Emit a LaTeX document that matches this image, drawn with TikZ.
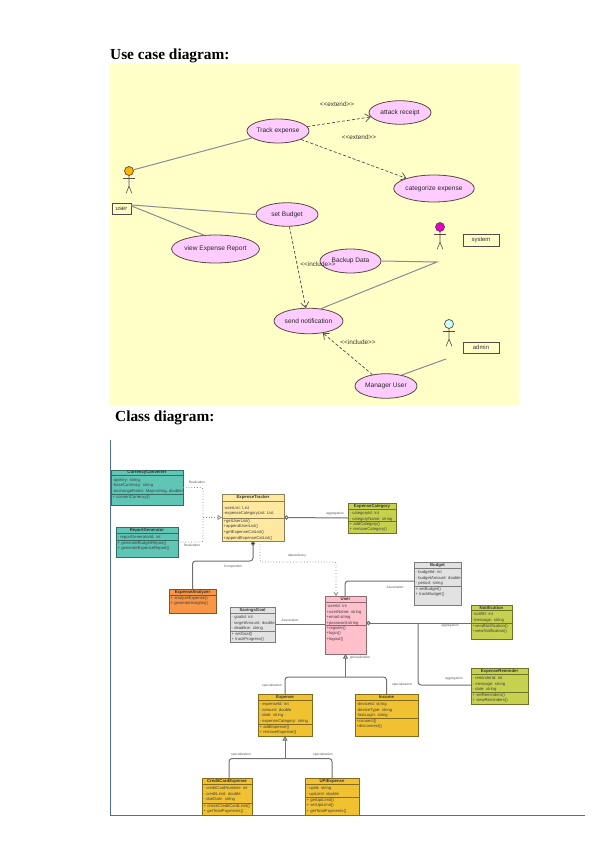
\documentclass[tikz,border=0pt]{standalone}
\usepackage{fontspec}
\setmainfont{Liberation Serif}
\newfontfamily\ssf{Liberation Sans}
\usetikzlibrary{arrows.meta,shapes.geometric,calc}
\definecolor{ucbg}{HTML}{FFFFC8}
\definecolor{ucfill}{HTML}{FFCCFF}
\definecolor{ucedge}{HTML}{5A4848}
\definecolor{uclink}{HTML}{8A8A98}
\definecolor{umlline}{HTML}{707070}
\definecolor{cteal}{HTML}{5FC6B6}
\definecolor{ccream}{HTML}{FFE9A0}
\definecolor{colive}{HTML}{C6D24E}
\definecolor{corange}{HTML}{F79646}
\definecolor{cgrey}{HTML}{E2E2E2}
\definecolor{cpink}{HTML}{FFC0CB}
\definecolor{cgold}{HTML}{F0C232}
\definecolor{frameblue}{HTML}{4F7190}
\definecolor{headuser}{HTML}{FFB400}
\definecolor{headsystem}{HTML}{E600C8}
\definecolor{headadmin}{HTML}{C8FFFF}
\tikzset{
  heading/.style={anchor=base west,inner sep=0,font=\fontsize{15.4}{17}\selectfont\bfseries},
  usecase/.style={ellipse,draw=ucedge,fill=ucfill,line width=0.8bp,inner sep=0,font=\ssf\fontsize{6.6}{8}\selectfont,text=black!85},
  actorlimb/.style={draw=ucedge,line width=0.6bp},
  actorhead/.style={circle,draw=ucedge,line width=0.7bp,minimum size=9bp,inner sep=0},
  tagbox/.style={draw=ucedge,fill=ucbg,line width=0.7bp,inner sep=0,font=\ssf\fontsize{6}{7}\selectfont,text=black!80},
  uclabel/.style={inner sep=0,font=\ssf\fontsize{6.4}{7}\selectfont,text=black!80},
  uclinkst/.style={draw=uclink,line width=1bp},
  ucdep/.style={draw=black!70,line width=0.7bp,dash pattern=on 3bp off 2bp,-{Straight Barb[length=5bp,width=8bp]}},
  classbody/.style={rectangle,draw=#1!55!black,fill=#1,line width=0.7bp,inner sep=0,outer sep=0},
  classtitle/.style={inner sep=0,font=\ssf\bfseries\fontsize{4.3}{5}\selectfont,text=black!80},
  classlines/.style={anchor=north west,inner sep=0,align=left,font=\ssf\fontsize{4.2}{5.6}\selectfont,text=black!75},
  umllink/.style={draw=umlline,line width=1bp,rounded corners=3bp},
  umldot/.style={draw=umlline!80,line width=0.8bp,dotted,rounded corners=2bp},
  umllabel/.style={inner sep=0,font=\ssf\fontsize{3.3}{4}\selectfont,text=black!65},
  hollowtri/.style={-{Triangle[open,fill=white,length=4.5bp,width=5bp]}},
  hollowdia/.style={{Diamond[open,fill=white,length=5bp,width=4.5bp]}-},
}
\def\parsegeom#1,#2,#3,#4,#5,#6\relax{%
  \def\xa{#1}\def\ya{#2}\def\xb{#3}\def\yb{#4}\def\yh{#5}\def\ys{#6}}
% name, geometry x1,y1,x2,y2,yheader,ysep, colour, title, attributes, methods
\newcommand{\umlclass}[6]{%
  \parsegeom#2\relax
  \pgfmathsetmacro{\bw}{\xb-\xa}\pgfmathsetmacro{\bh}{\yb-\ya}
  \pgfmathsetmacro{\mx}{(\xa+\xb)/2}\pgfmathsetmacro{\my}{(\ya+\yb)/2}
  \pgfmathsetmacro{\ty}{(\ya+\yh)/2}
  \pgfmathsetmacro{\ax}{\xa+1.5}
  \pgfmathsetmacro{\ayy}{\yh+2.4}\pgfmathsetmacro{\myy}{\ys+1.1}
  \node[classbody=#3,minimum width=\bw bp,minimum height=\bh bp] (#1) at (\mx,\my) {};
  \draw[#3!55!black,line width=0.6bp] (\xa,\yh) -- (\xb,\yh) (\xa,\ys) -- (\xb,\ys);
  \node[classtitle] (#1-title) at (\mx,\ty) {#4};
  \node[classlines] (#1-attrs) at (\ax,\ayy) {#5};
  \node[classlines] (#1-ops) at (\ax,\myy) {#6};
}
% name, head x, head y, colour
\newcommand{\actor}[4]{%
  \node[actorhead,fill=#4] (#1) at (#2,#3) {};
  \draw[actorlimb] (#1.south) -- ++(0,10.5) coordinate (#1-hip) -- ++(-3,7);
  \draw[actorlimb] (#1-hip) -- ++(3,7);
  \draw[actorlimb] ($(#1.south)+(-6,2.5)$) -- ++(12,0);
}
\begin{document}
\begin{tikzpicture}[x=1bp,y=-1bp]
\useasboundingbox[fill=white] (0,0) rectangle (592,845);
\node[heading] (h1) at (110,59) {Use case diagram:};
\node[heading] (h2) at (115,421) {Class diagram:};
\fill[ucbg] (110,64) rectangle (519,405);

% use cases
\node[usecase,minimum width=62bp,minimum height=24bp] (track) at (278,131) {Track expense};
\node[usecase,minimum width=62bp,minimum height=23.5bp] (attack) at (400,112.5) {attack receipt};
\node[usecase,minimum width=76bp,minimum height=27bp] (categ) at (434,188.5) {categorize expense};
\node[usecase,minimum width=62bp,minimum height=23.5bp] (budget) at (287,214.5) {set Budget};
\node[usecase,minimum width=81bp,minimum height=28bp] (report) at (215.5,249) {view Expense Report};
\node[usecase,minimum width=61bp,minimum height=24bp] (backup) at (350.5,261) {\raisebox{1.8bp}{Backup Data}};
\node[usecase,minimum width=69bp,minimum height=25.5bp] (send) at (308.5,321) {send notification};
\node[usecase,minimum width=62bp,minimum height=24.5bp] (manager) at (386,386) {Manager User};

% actors
\actor{auser}{129}{171}{headuser}
\actor{asystem}{440}{227}{headsystem}
\actor{aadmin}{449}{324}{headadmin}
\node[tagbox,minimum width=19bp,minimum height=11bp] (tuser) at (121.5,208.5) {user};
\node[tagbox,minimum width=36bp,minimum height=11.5bp] (tsystem) at (481,240.5) {system};
\node[tagbox,minimum width=36bp,minimum height=11bp] (tadmin) at (481,347.5) {admin};
\coordinate (syslink) at (437,262);
\coordinate (adminlink) at (446,359);

% use case links
\draw[uclinkst] (auser) -- (track);
\draw[uclinkst] (tuser.20) -- (budget.west);
\draw[uclinkst] (tuser.15) -- (report.130);
\draw[uclinkst] (backup.east) -- (syslink) -- (send.45);
\draw[uclinkst] (adminlink) -- (manager.35);
\draw[ucdep] (track) -- (attack);
\draw[ucdep] (track) -- (categ);
\draw[ucdep] (budget) -- (send);
\draw[ucdep] (manager) -- (send);
\node[uclabel] (l1) at (337,104) {<{}<extend>{}>};
\node[uclabel] (l2) at (359,137) {<{}<extend>{}>};
\node[uclabel] (l3) at (318,264) {<{}<include>{}>};
\node[uclabel] (l4) at (358,342) {<{}<include>{}>};

% class diagram frame
\draw[frameblue,line width=0.9bp] (110.5,440) -- (110.5,815.5) -- (585,815.5);

% classes
\umlclass{cc}{111,470,183,505,475.5,494}{cteal}{CurrencyConverter}
 {-apiKey: string\\-baseCurrency: string\\-exchangeRates: Map<string, double>}{+ convertCurrency()}
\umlclass{rg}{116,527,178,557,533,540}{cteal}{ReportGenerator}
 {- reportGeneratorId: int}{+ generateBudgetReport()\\+ generateExpenseReport()}
\umlclass{et}{222,494,284,541,501,518}{ccream}{ExpenseTracker}
 {\mbox{}\\-userList: List\\-expenseCategoryList: List}{+getUserList()\\+appendUserList()\\+getExpenseCatList()\\+appendExpenseCatList()}
\umlclass{ea}{169,589,216,613,595,595}{corange}{ExpenseAnalyzer}
 {}{+ analyzeExpense()\\+ generateInsights()}
\umlclass{sg}{230,607,275,642,613,631}{cgrey}{SavingsGoal}
 {- goalId: int\\- targetAmount: double\\- deadline: string}{+ setGoal()\\+ trackProgress()}
\umlclass{ec}{348,503,396,533,509,521}{colive}{ExpenseCategory}
 {- categoryId: int\\- categoryName: string}{+ addCategory()\\+ removeCategory()}
\umlclass{bd}{414,562,461,605,568,586}{cgrey}{Budget}
 {- budgetId: int\\- budgetAmount: double\\- period: string}{+ setBudget()\\+ trackBudget()}
\umlclass{us}{325,596,366,654,602,625}{cpink}{User}
 {-userId: int\\+userName: string\\+email:string\\+password:string}{+register()\\+login()\\+logout()}
\umlclass{nt}{471,605,512,639,610,623}{colive}{Notification}
 {-notifID: int\\-message: string}{+sendNotification()\\+viewNotification()}
\umlclass{er}{471,668,528,704,674,692}{colive}{ExpenseReminder}
 {- reminderId: int\\- message: string\\- date: string}{+ setReminders()\\+ viewReminders()}
\umlclass{ex}{258,694,312,736,700,724}{cgold}{Expense}
 {- expenseId: int\\- amount: double\\- date: string\\- expenseCategory: string}{+ addExpense()\\+ removeExpense()}
\umlclass{in}{355,694,418,736,700,718}{cgold}{Income}
 {-deviceId: string\\-deviceType: string\\-lastLogin: string}{+connect()\\+disconnect()}
\umlclass{cd}{202,778,252,815,784,803}{cgold}{CreditCardExpense}
 {- creditCardNumber: int\\- creditLimit: double\\- dueDate: string}{+ checkCreditCardLimit()\\+ getTotalPayments()}
\umlclass{up}{305,778,359,815,784,797}{cgold}{UPIExpense}
 {- upiId: string\\- upiLimit: double}{+ getUpiLimit()\\+ setUpiLimit()\\+ getTotalPayments()}

% junctions
\coordinate (real) at (203,517.5);
\coordinate (compbend) at (192.5,561);
\coordinate (depstart) at (260,541);
\coordinate (depbend) at (336,562);
\coordinate (depend) at (336,596);
\coordinate (assocbend) at (345,581);
\coordinate (aggsplit) at (418,623);
\coordinate (aggtop) at (366,623);
\coordinate (gensplit) at (345.5,677);
\coordinate (specsplit) at (285,758.5);

% class links
\draw[umldot] (cc.east) -| (real) |- (rg.east);
\draw[umldot,hollowtri] (real) -- (et.west);
\draw[umllink,hollowdia] (et.east) -- (ec.west);
\draw[umllink,{Diamond[fill=black,length=5bp,width=4.5bp]}-] (et.south) |- (compbend) -- (ea.north);
\draw[umldot,-{Straight Barb[length=3bp,width=4bp]}] (depstart) |- (depbend) -- (depend);
\draw[umllink] (bd.west |- assocbend) -- (assocbend) -- (assocbend |- us.north);
\draw[umllink] (sg.east |- 0,624) -- (us.west |- 0,624);
\draw[umllink,hollowdia] (aggtop) -- (nt.west |- aggtop);
\draw[umllink] (aggsplit) |- (er.west |- 0,685);
\draw[umllink,hollowtri] (gensplit) -- (us.south);
\draw[umllink] (ex.north) |- (gensplit) -| (in.north);
\draw[umllink,hollowtri] (specsplit) -- (ex.south);
\draw[umllink] (cd.north -| 229,0) |- (specsplit) -| (up.north -| 332,0);

\node[umllabel] (r1) at (197,482) {Realization};
\node[umllabel] (r2) at (192,545) {Realization};
\node[umllabel] (c1) at (233,567) {Composition};
\node[umllabel] (d1) at (297,556) {dependency};
\node[umllabel] (g1) at (335,514) {aggregation};
\node[umllabel] (a1) at (395,587) {Association};
\node[umllabel] (a2) at (290,620) {Association};
\node[umllabel] (g2) at (450,626) {aggregation};
\node[umllabel] (g3) at (454,679) {aggregation};
\node[umllabel] (z1) at (360,658) {generalization};
\node[umllabel] (s1) at (272,686) {specialization};
\node[umllabel] (s2) at (402,685) {specialization};
\node[umllabel] (s3) at (241,755) {specialization};
\node[umllabel] (s4) at (323,755) {specialization};
\end{tikzpicture}
\end{document}
